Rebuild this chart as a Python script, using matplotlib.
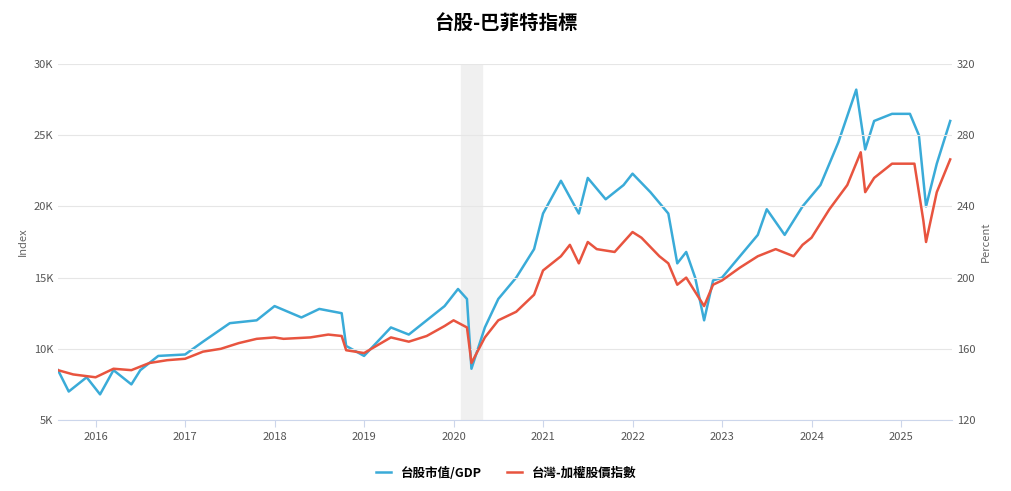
import matplotlib
matplotlib.use("Agg")
import matplotlib.pyplot as plt

plt.rcParams["font.family"] = ["Noto Sans CJK TC", "DejaVu Sans"]

red_t = [2015.58,2015.75,2016.0,2016.2,2016.4,2016.6,2016.8,2017.0,2017.2,2017.4,2017.6,2017.8,2018.0,2018.1,2018.4,2018.6,2018.75,2018.8,2019.0,2019.3,2019.5,2019.7,2019.9,2020.0,2020.15,2020.2,2020.35,2020.5,2020.7,2020.9,2021.0,2021.2,2021.3,2021.4,2021.5,2021.6,2021.8,2022.0,2022.1,2022.3,2022.4,2022.5,2022.6,2022.7,2022.8,2022.9,2023.0,2023.2,2023.4,2023.6,2023.8,2023.9,2024.0,2024.2,2024.4,2024.55,2024.6,2024.7,2024.9,2025.0,2025.15,2025.25,2025.28,2025.4,2025.55]
red_v = [8500,8200,8000,8600,8500,9000,9200,9300,9800,10000,10400,10700,10800,10700,10800,11000,10900,9900,9700,10800,10500,10900,11600,12000,11500,9000,10800,12000,12600,13800,15500,16500,17300,16000,17500,17000,16800,18200,17800,16500,16000,14500,15000,14000,13000,14500,14800,15700,16500,17000,16500,17300,17800,19800,21500,23800,21000,22000,23000,23000,23000,19000,17500,21000,23300]

blue_t = [2015.58,2015.7,2015.9,2016.05,2016.2,2016.4,2016.5,2016.7,2017.0,2017.2,2017.5,2017.8,2018.0,2018.3,2018.5,2018.75,2018.8,2019.0,2019.3,2019.5,2019.7,2019.9,2020.05,2020.15,2020.2,2020.35,2020.5,2020.7,2020.9,2021.0,2021.2,2021.4,2021.5,2021.7,2021.9,2022.0,2022.2,2022.4,2022.5,2022.6,2022.7,2022.8,2022.9,2023.0,2023.2,2023.4,2023.5,2023.7,2023.9,2024.1,2024.3,2024.5,2024.6,2024.7,2024.9,2025.1,2025.2,2025.28,2025.4,2025.55]
blue_v = [148,136,144,134.4,148,140,148,156,156.8,164,174.4,176,184,177.6,182.4,180,161.6,156,172,168,176,184,193.6,188,148.8,172,188,200,216,236,254.4,236,256,244,252,258.4,248,236,208,214.4,200,176,198.4,200,212,224,238.4,224,240,252,276,305.6,272,288,292,292,280,240,264,288]

years = list(range(2016, 2026))
left_ticks = [5000,10000,15000,20000,25000,30000]
left_labels = ["5K","10K","15K","20K","25K","30K"]
right_ticks = [120,160,200,240,280,320]

fig = plt.figure(figsize=(10.12,4.91), dpi=100)
ax = fig.add_axes([58/1012, 1-420/491, (952-58)/1012, (420-64)/491])
ax2 = ax.twinx()
ax2.axvspan(2020.08, 2020.32, color="#f0f0f0", zorder=0)
ax2.plot(blue_t, blue_v, color="#3aabd8", lw=1.8, label="台股市值/GDP", zorder=2)
ax.plot(red_t, red_v, color="#e8543f", lw=1.8, label="台灣-加權股價指數", zorder=3)
ax.set_xlim(2015.58, 2025.57)
ax.set_ylim(5000, 30000)
ax2.set_ylim(120, 320)
ax.set_yticks(left_ticks, left_labels)
ax2.set_yticks(right_ticks)
ax.set_xticks(years, [str(y) for y in years])
ax.grid(axis="y", color="#e6e6e6", lw=0.8)
for a in (ax, ax2):
    for s in a.spines.values():
        s.set_visible(False)
    a.tick_params(length=0, labelsize=8, colors="#555555")
ax.spines["bottom"].set_visible(True)
ax.spines["bottom"].set_color("#ccd6eb")
ax.tick_params(axis="x", length=5, color="#ccd6eb")
ax.set_ylabel("Index", fontsize=8, color="#666666")
ax2.set_ylabel("Percent", fontsize=8, color="#666666")
ax.set_zorder(ax2.get_zorder()+1); ax.patch.set_visible(False)
fig.suptitle("台股-巴菲特指標", fontsize=14, fontweight="bold", y=0.97)
h = ax2.get_legend_handles_labels()[0] + ax.get_legend_handles_labels()[0]
l = ax2.get_legend_handles_labels()[1] + ax.get_legend_handles_labels()[1]
fig.legend(h, l, loc="lower center", ncol=2, frameon=False, bbox_to_anchor=(0.5, 0.0),
           prop={"weight":"bold","size":9}, handlelength=1.2)
fig.savefig("out.png", dpi=100)
